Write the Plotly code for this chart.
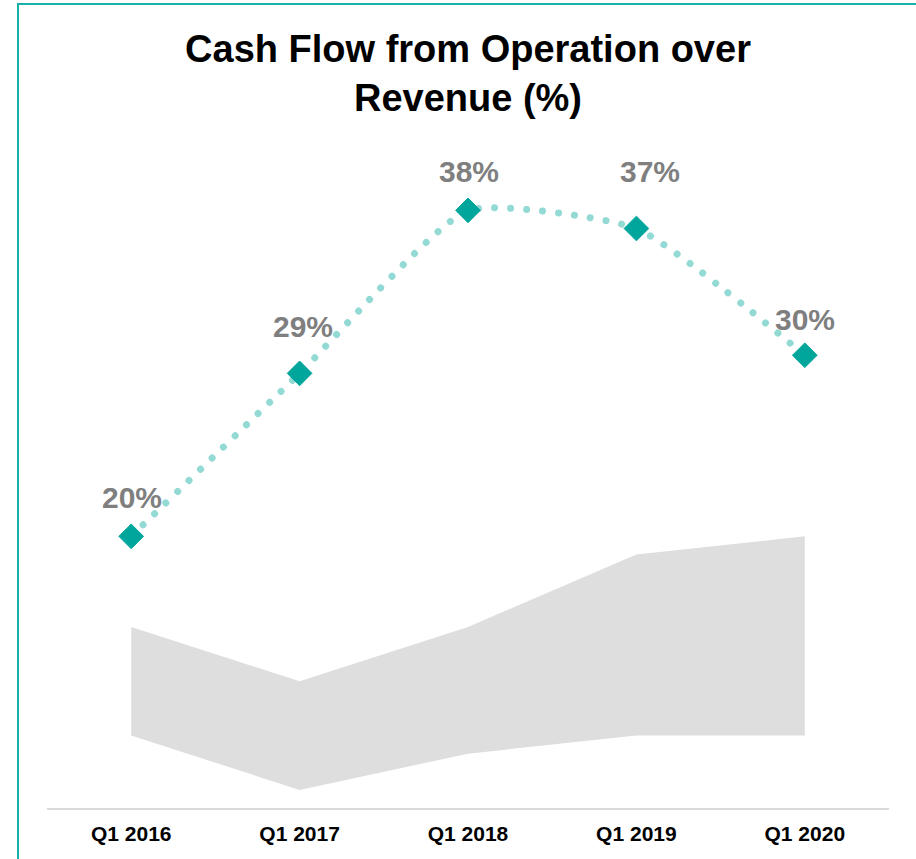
import plotly.graph_objects as go

# ---- data ----
quarters = ["Q1 2016", "Q1 2017", "Q1 2018", "Q1 2019", "Q1 2020"]
cfo_over_revenue = [20, 29, 38, 37, 30]          # %, company
peer_range_low = [9, 6, 8, 9, 9]                 # %, grey band lower edge
peer_range_high = [15, 12, 15, 19, 20]           # %, grey band upper edge
value_labels = [f"{v}%" for v in cfo_over_revenue]

# ---- styles ----
TEAL = "#00A69C"
TEAL_LIGHT = "#93D9D4"
GREY_BAND = "#DEDEDE"
LABEL_GREY = "#7F7F7F"
FONT = "Liberation Sans, Arial, sans-serif"
label_xshift = [1, 3, 1, 14, 0]
label_yshift = [20, 28, 20, 38, 17]

fig = go.Figure()

fig.add_trace(go.Scatter(
    x=quarters, y=peer_range_low, mode="lines",
    line=dict(width=0, color=GREY_BAND), hoverinfo="skip", showlegend=False))
fig.add_trace(go.Scatter(
    x=quarters, y=peer_range_high, mode="lines", fill="tonexty",
    fillcolor=GREY_BAND, line=dict(width=0, color=GREY_BAND),
    hoverinfo="skip", showlegend=False))

fig.add_trace(go.Scatter(
    x=quarters, y=cfo_over_revenue, mode="lines+markers",
    line=dict(color=TEAL_LIGHT, width=7, dash="7px,9px", shape="spline", smoothing=0.5),
    marker=dict(symbol="diamond", size=19, color=TEAL, line=dict(width=1, color=TEAL)),
    showlegend=False))

for q, v, lab, xs, ys in zip(quarters, cfo_over_revenue, value_labels, label_xshift, label_yshift):
    fig.add_annotation(x=q, y=v, text=lab, showarrow=False, xanchor="center", yanchor="bottom",
                       xshift=xs, yshift=ys,
                       font=dict(family=FONT, size=30, color=LABEL_GREY, weight="bold"))

# teal frame around the card
fig.add_shape(type="rect", xref="paper", yref="paper",
              x0=(18 - 47) / 842, x1=(925 - 47) / 842,
              y0=(808 - 870) / 678, y1=(808 - 4) / 678,
              line=dict(color="#19B2AB", width=2), fillcolor="rgba(0,0,0,0)", layer="above")

fig.update_layout(
    width=916, height=859,
    margin=dict(l=47, r=27, t=130, b=51),
    paper_bgcolor="white", plot_bgcolor="white",
    title=dict(text="Cash Flow from Operation over<br>Revenue (%)",
               x=0.5, xref="paper", xanchor="center",
               y=1 - 62 / 859, yref="container", yanchor="top",
               font=dict(family=FONT, size=38, color="black", weight="bold")),
    xaxis=dict(range=[-0.5, 4.5], showgrid=False, zeroline=False,
               showline=True, linecolor="#D9D9D9", linewidth=2, ticks="",
               ticklabelstandoff=6,
               tickfont=dict(family=FONT, size=21, color="black", weight="bold")),
    yaxis=dict(range=[5, 5 + 678 / 18.11], visible=False, showgrid=False, zeroline=False),
)

post = """
document.documentElement.style.margin = '0';
document.body.style.margin = '0';
document.body.style.padding = '0';
var gd = document.getElementById('{plot_id}');
function roundDots(){
  var traces = gd.querySelectorAll('.scatterlayer .trace');
  if (!traces.length) return;
  var t = traces[traces.length - 1];
  t.querySelectorAll('.js-line').forEach(function(p){
    p.style.strokeLinecap = 'round';
    p.style.strokeDasharray = '0.01px,16px';
  });
}
roundDots();
if (gd.on) gd.on('plotly_afterplot', roundDots);
"""
fig.write_html("out.html", post_script=post, config={"displayModeBar": False})
